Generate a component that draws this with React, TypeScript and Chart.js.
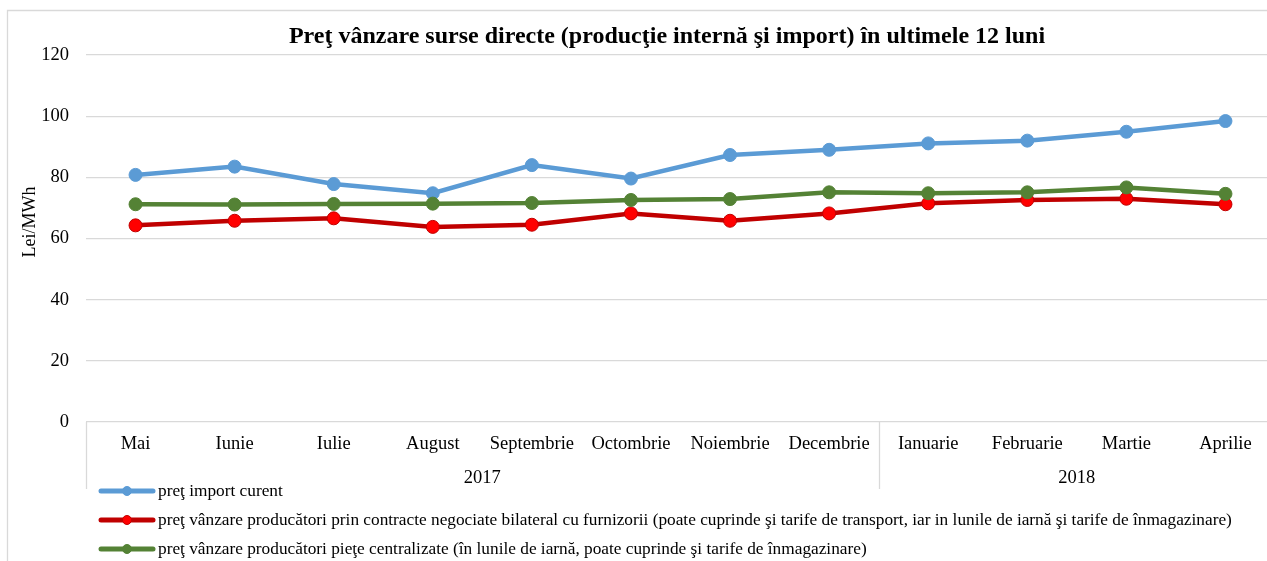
import React, { useEffect, useRef } from "react";
import { Chart, registerables } from "chart.js";

Chart.register(...registerables);

const months = ["Mai", "Iunie", "Iulie", "August", "Septembrie", "Octombrie", "Noiembrie", "Decembrie", "Ianuarie", "Februarie", "Martie", "Aprilie"];
const yearLabels = ["2017", "2018"];
const yearSpans = [8, 4];

const importCurent = [80.8, 83.5, 77.8, 74.8, 84.0, 79.6, 87.3, 89.0, 91.1, 92.0, 94.9, 98.4];
const contracteBilaterale = [64.3, 65.8, 66.6, 63.8, 64.5, 68.2, 65.8, 68.2, 71.5, 72.6, 73.0, 71.2];
const pieteCentralizate = [71.2, 71.1, 71.3, 71.4, 71.6, 72.6, 72.9, 75.1, 74.8, 75.1, 76.7, 74.6];

const seriesNames = [
  "preţ import curent",
  "preţ vânzare producători prin contracte negociate bilateral cu furnizorii (poate cuprinde şi tarife de transport, iar in lunile de iarnă şi tarife de înmagazinare)",
  "preţ vânzare producători pieţe centralizate (în lunile de iarnă, poate cuprinde şi tarife de înmagazinare)",
];

const titleText = "Preţ vânzare surse directe (producţie internă şi import) în ultimele 12 luni";
const yAxisTitle = "Lei/MWh";
const yTicks = { min: 0, max: 120, step: 20 };

const FONT = '"Liberation Serif", "Times New Roman", serif';

const decor = {
  id: "decor",
  beforeDraw(chart: any) {
    const ctx = chart.ctx;
    ctx.save();
    ctx.strokeStyle = "#d9d9d9";
    ctx.lineWidth = 1.3;
    ctx.beginPath();
    ctx.moveTo(7.5, chart.height);
    ctx.lineTo(7.5, 10.5);
    ctx.lineTo(chart.width, 10.5);
    ctx.stroke();
    ctx.restore();
  },
  afterDraw(chart: any) {
    const ctx = chart.ctx;
    const area = chart.chartArea;
    const xs = chart.scales.x;
    ctx.save();
    // title
    ctx.fillStyle = "#000";
    ctx.font = `bold 24px ${FONT}`;
    ctx.textAlign = "center";
    ctx.textBaseline = "middle";
    ctx.fillText(titleText, 667, 37);
    // y title
    ctx.save();
    ctx.translate(30, 222);
    ctx.rotate(-Math.PI / 2);
    ctx.font = `18px ${FONT}`;
    ctx.fillText(yAxisTitle, 0, 0);
    ctx.restore();
    // group separators and year labels
    const half = (xs.getPixelForValue(1) - xs.getPixelForValue(0)) / 2;
    ctx.strokeStyle = "#d9d9d9";
    ctx.lineWidth = 1.3;
    let idx = 0;
    const edges: number[] = [area.left];
    yearSpans.forEach((span, i) => {
      const x0 = xs.getPixelForValue(idx) - half;
      const x1 = xs.getPixelForValue(idx + span - 1) + half;
      edges.push(x1);
      ctx.fillStyle = "#000";
      ctx.font = `18.5px ${FONT}`;
      ctx.fillText(yearLabels[i], (x0 + x1) / 2, 478);
      idx += span;
    });
    edges.forEach((x) => {
      const px = Math.round(x) + 0.5;
      ctx.beginPath();
      ctx.moveTo(px, area.bottom);
      ctx.lineTo(px, 489);
      ctx.stroke();
    });
    // legend
    const rows = [491, 520, 549];
    chart.data.datasets.forEach((ds: any, i: number) => {
      const y = rows[i];
      ctx.strokeStyle = ds.borderColor;
      ctx.lineWidth = 5;
      ctx.lineCap = "round";
      ctx.beginPath();
      ctx.moveTo(101, y);
      ctx.lineTo(153, y);
      ctx.stroke();
      ctx.beginPath();
      ctx.arc(127, y, 4.5, 0, Math.PI * 2);
      ctx.fillStyle = ds.pointBackgroundColor;
      ctx.fill();
      ctx.lineWidth = 1;
      ctx.strokeStyle = ds.pointBorderColor;
      ctx.stroke();
      ctx.fillStyle = "#000";
      ctx.font = `17.3px ${FONT}`;
      ctx.textAlign = "left";
      ctx.fillText(seriesNames[i], 158, y);
    });
    ctx.restore();
  },
};

export default function App() {
  const ref = useRef<HTMLCanvasElement>(null);
  useEffect(() => {
    if (!ref.current) return;
    const chart = new Chart(ref.current, {
      type: "line",
      data: {
        labels: months,
        datasets: [
          {
            label: seriesNames[0],
            data: importCurent,
            borderColor: "#5b9bd5",
            backgroundColor: "#5b9bd5",
            pointBackgroundColor: "#5b9bd5",
            pointBorderColor: "#5b9bd5",
            borderWidth: 4.5,
            pointRadius: 6.5,
            pointBorderWidth: 1,
            order: 3,
          },
          {
            label: seriesNames[1],
            data: contracteBilaterale,
            borderColor: "#c00000",
            backgroundColor: "#ff0000",
            pointBackgroundColor: "#ff0000",
            pointBorderColor: "#c00000",
            borderWidth: 4.5,
            pointRadius: 6.5,
            pointBorderWidth: 1,
            order: 2,
          },
          {
            label: seriesNames[2],
            data: pieteCentralizate,
            borderColor: "#548235",
            backgroundColor: "#548235",
            pointBackgroundColor: "#548235",
            pointBorderColor: "#548235",
            borderWidth: 4.5,
            pointRadius: 6.5,
            pointBorderWidth: 1,
            order: 1,
          },
        ],
      },
      options: {
        animation: false,
        responsive: false,
        devicePixelRatio: 1,
        layout: { padding: { top: 55, right: 15, left: 0, bottom: 0 } },
        plugins: { legend: { display: false }, title: { display: false }, tooltip: { enabled: false } },
        scales: {
          x: {
            offset: true,
            grid: { display: false, drawTicks: false, offset: true },
            border: { display: false },
            ticks: { font: { family: FONT, size: 18.5 }, color: "#000", padding: 11, maxRotation: 0, autoSkip: false },
            afterFit: (s: any) => {
              s.height = 139;
            },
          },
          y: {
            min: yTicks.min,
            max: yTicks.max,
            ticks: { stepSize: yTicks.step, font: { family: FONT, size: 18.5 }, color: "#000", padding: 17 },
            grid: { color: "#d9d9d9", lineWidth: 1.3, drawTicks: false },
            border: { display: false },
            afterFit: (s: any) => {
              s.width = 86;
            },
          },
        },
      },
      plugins: [decor],
    });
    return () => chart.destroy();
  }, []);
  return (
    <div style={{ position: "absolute", left: 0, top: 0, width: 1267, height: 561, overflow: "hidden", background: "#fff" }}>
      <canvas ref={ref} width={1290} height={561} style={{ display: "block", width: 1290, height: 561 }} />
    </div>
  );
}
